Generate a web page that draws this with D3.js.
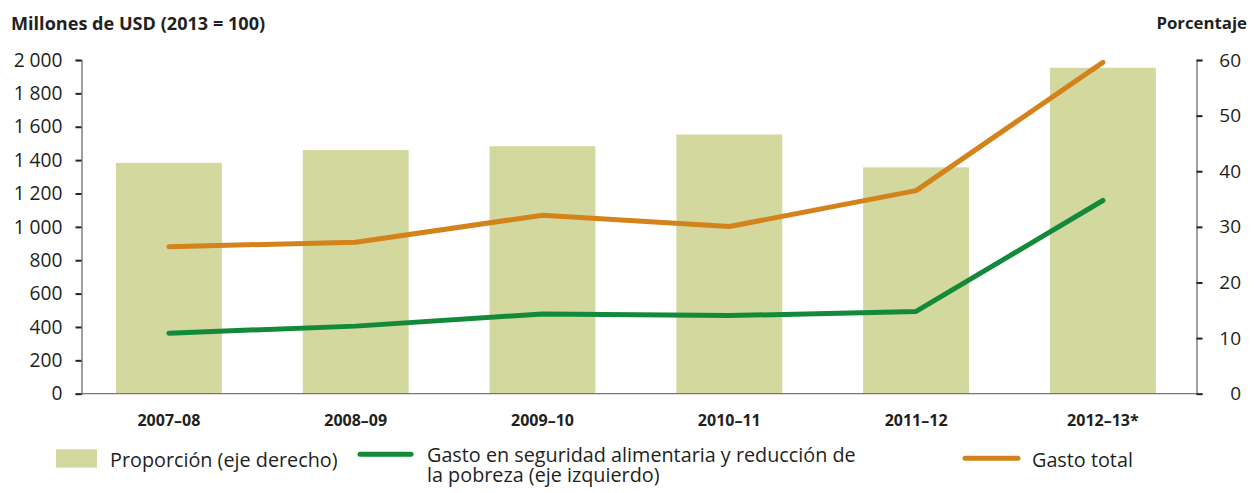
<!DOCTYPE html>
<html><head><meta charset="utf-8">
<script src="https://cdn.jsdelivr.net/npm/d3@7"></script>
<style>body{margin:0;background:#fff}svg{display:block}</style>
</head><body>
<svg id="c" width="1254" height="493"></svg>
<script>
const categories = ["2007–08","2008–09","2009–10","2010–11","2011–12","2012–13*"];
const proporcion = [41.5, 43.8, 44.5, 46.6, 40.7, 58.6];
const gastoSeguridad = [363, 405, 478, 468, 493, 1158];
const gastoTotal = [881, 908, 1070, 1002, 1217, 1986];
const leftTicks = [0,200,400,600,800,1000,1200,1400,1600,1800,2000];
const rightTicks = [0,10,20,30,40,50,60];

const svg = d3.select("#c");
const font = "'Open Sans', sans-serif";
const txt = "#231f20";
const x0 = 81.5, x1 = 1196.5, yTop = 60, yBot = 393.7;

const x = d3.scaleBand().domain(categories).range([78.6, 1193.2]).paddingInner(0.433).paddingOuter(0.2);
const yL = d3.scaleLinear().domain([0,2000]).range([yBot, yTop]);
const yR = d3.scaleLinear().domain([0,60]).range([yBot, yTop]);

// bars
svg.append("g").selectAll("rect").data(categories).join("rect")
  .attr("x", d => x(d)).attr("width", x.bandwidth())
  .attr("y", (d,i) => yR(proporcion[i])).attr("height", (d,i) => yBot - yR(proporcion[i]))
  .attr("fill", "#d3d89f");

// x baseline
svg.append("line").attr("x1", x0).attr("x2", x1).attr("y1", yBot).attr("y2", yBot)
  .attr("stroke", "#777").attr("stroke-width", 1.2);

// left axis
const gl = svg.append("g").attr("transform", `translate(${x0},0)`)
  .call(d3.axisLeft(yL).tickValues(leftTicks).tickSize(6).tickPadding(13).tickFormat(d => d3.format(",")(d).replace(/,/g, " ")));
gl.select(".domain").attr("stroke", "#777").attr("stroke-width", 1.4);
gl.selectAll(".tick line").attr("stroke", "#222").attr("stroke-width", 2);
gl.selectAll("text").attr("font-family", font).attr("font-size", 19.2).attr("fill", txt);

// right axis
const gr = svg.append("g").attr("transform", `translate(${x1},0)`)
  .call(d3.axisRight(yR).tickValues(rightTicks).tickSize(6).tickPadding(0));
gr.select(".domain").attr("stroke", "#777").attr("stroke-width", 1.4);
gr.selectAll(".tick line").attr("stroke", "#222").attr("stroke-width", 2);
gr.selectAll("text").attr("font-family", font).attr("font-size", 19).attr("fill", txt)
  .attr("text-anchor", "end").attr("x", 44.5);

// x labels
svg.append("g").selectAll("text").data(categories).join("text")
  .attr("x", d => x(d) + x.bandwidth()/2).attr("y", 426)
  .attr("text-anchor", "middle").attr("font-family", font).attr("font-weight", "bold")
  .attr("font-size", 16).attr("fill", txt).text(d => d);

// lines
const line = d3.line().x((d,i) => x(categories[i]) + x.bandwidth()/2).y(d => yL(d));
svg.append("path").datum(gastoTotal).attr("d", line).attr("fill","none")
  .attr("stroke", "#d4821a").attr("stroke-width", 5).attr("stroke-linecap","round").attr("stroke-linejoin","round");
svg.append("path").datum(gastoSeguridad).attr("d", line).attr("fill","none")
  .attr("stroke", "#128a3a").attr("stroke-width", 5).attr("stroke-linecap","round").attr("stroke-linejoin","round");

// titles
svg.append("text").attr("x", 11).attr("y", 30).attr("font-family", font).attr("font-weight","bold")
  .attr("font-size", 18.1).attr("fill", txt).text("Millones de USD (2013 = 100)");
svg.append("text").attr("x", 1247).attr("y", 29).attr("text-anchor","end").attr("font-family", font).attr("font-weight","bold")
  .attr("font-size", 16.8).attr("fill", txt).text("Porcentaje");

// legend
const lg = svg.append("g").attr("font-family", font).attr("font-size", 19.8).attr("fill", txt);
lg.append("rect").attr("x", 56).attr("y", 449.3).attr("width", 41).attr("height", 18.4).attr("fill", "#d3d89f");
lg.append("text").attr("x", 110).attr("y", 466.5).text("Proporción (eje derecho)");
lg.append("line").attr("x1", 360).attr("x2", 411).attr("y1", 454.3).attr("y2", 454.3)
  .attr("stroke", "#128a3a").attr("stroke-width", 5).attr("stroke-linecap","round");
const t2 = lg.append("text").attr("x", 427).attr("y", 461.5);
t2.append("tspan").attr("x", 427).attr("y", 461.5).text("Gasto en seguridad alimentaria y reducción de");
t2.append("tspan").attr("x", 427).attr("y", 481.5).text("la pobreza (eje izquierdo)");
lg.append("line").attr("x1", 965).attr("x2", 1018).attr("y1", 458.3).attr("y2", 458.3)
  .attr("stroke", "#d4821a").attr("stroke-width", 5).attr("stroke-linecap","round");
lg.append("text").attr("x", 1032).attr("y", 466.5).text("Gasto total");
</script>
</body></html>
